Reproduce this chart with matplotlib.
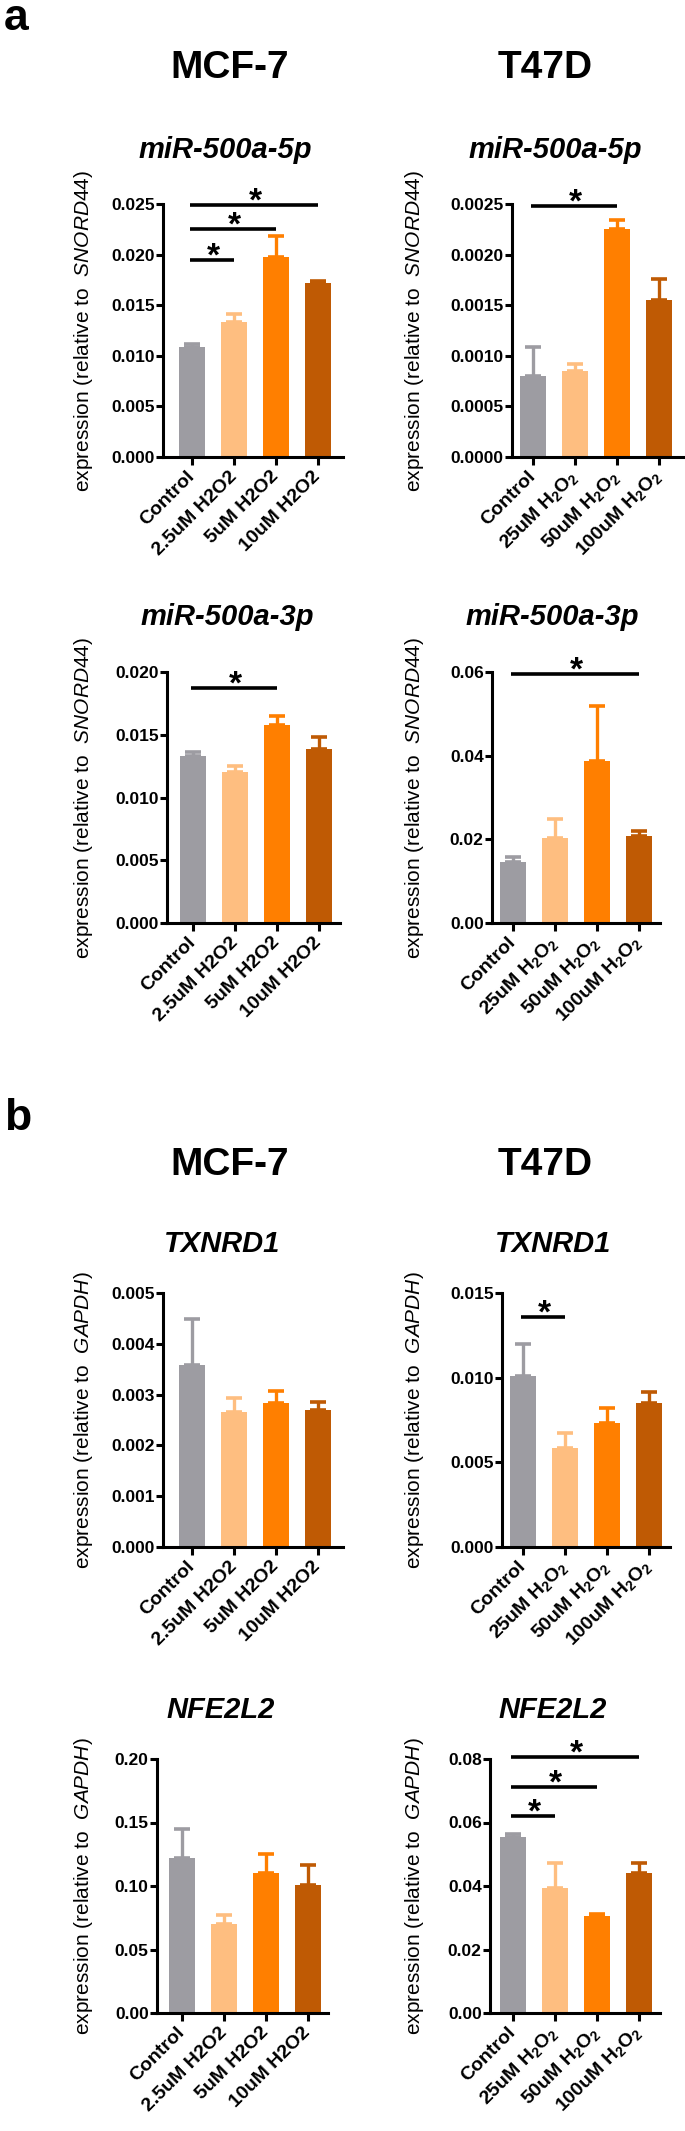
import numpy as np
import matplotlib.pyplot as plt
from matplotlib import font_manager
from matplotlib.ticker import FormatStrFormatter
import matplotlib.transforms as mtransforms

plt.rcParams['font.family'] = ['Liberation Sans', 'DejaVu Sans']
plt.rcParams['mathtext.fontset'] = 'custom'
plt.rcParams['mathtext.rm'] = 'Liberation Sans'
plt.rcParams['mathtext.it'] = 'Liberation Sans:italic'
plt.rcParams['mathtext.bf'] = 'Liberation Sans:bold'

# headers are set in a narrow bold face if one is there
try:
    font_manager.findfont('Liberation Sans Narrow', fallback_to_default=False)
    head_font, head_size = 'Liberation Sans Narrow', 30
except ValueError:
    head_font, head_size = 'Liberation Sans', 28

# colours: control, low, mid, high dose
bar_colors = ['#9d9ca2', '#febe80', '#ff7f00', '#bf5a04']

labels_mcf = ['Control', '2.5uM H2O2', '5uM H2O2', '10uM H2O2']
labels_t47d = ['Control', r'25uM H$_{\mathbf{2}}$O$_{\mathbf{2}}$',
               r'50uM H$_{\mathbf{2}}$O$_{\mathbf{2}}$',
               r'100uM H$_{\mathbf{2}}$O$_{\mathbf{2}}$']

# panel a
mir5p_mcf = [0.0109, 0.0133, 0.0198, 0.0172]
mir5p_mcf_err = [0.0003, 0.0008, 0.0020, 0.0002]
mir5p_t47d = [0.00080, 0.000845, 0.00225, 0.00155]
mir5p_t47d_err = [0.00029, 0.000076, 0.00009, 0.00021]
mir3p_mcf = [0.0133, 0.0120, 0.01575, 0.0139]
mir3p_mcf_err = [0.00034, 0.00048, 0.00074, 0.00092]
mir3p_t47d = [0.0147, 0.0204, 0.0388, 0.0209]
mir3p_t47d_err = [0.0010, 0.0044, 0.0131, 0.0011]

# panel b
txnrd1_mcf = [0.00359, 0.00266, 0.00283, 0.00269]
txnrd1_mcf_err = [0.00089, 0.00027, 0.00025, 0.00016]
txnrd1_t47d = [0.0101, 0.00586, 0.00734, 0.00853]
txnrd1_t47d_err = [0.0019, 0.00085, 0.00085, 0.00061]
nfe2l2_mcf = [0.122, 0.0703, 0.110, 0.1008]
nfe2l2_mcf_err = [0.023, 0.0071, 0.015, 0.0155]
nfe2l2_t47d = [0.0554, 0.0395, 0.0305, 0.0442]
nfe2l2_t47d_err = [0.0010, 0.0079, 0.0007, 0.0032]

# significance brackets: (from, to, height)
sig_mir5p_mcf = [(0, 1, 0.0195), (0, 2, 0.0225), (0, 3, 0.0249)]
sig_mir5p_t47d = [(0, 2, 0.00248)]
sig_mir3p_mcf = [(0, 2, 0.0187)]
sig_mir3p_t47d = [(0, 3, 0.0596)]
sig_txnrd1_t47d = [(0, 1, 0.0136)]
sig_nfe2l2_t47d = [(0, 1, 0.0621), (0, 2, 0.0712), (0, 3, 0.0806)]

W, H = 685, 2131
fig = plt.figure(figsize=(W / 100, H / 100), dpi=100)

def fx(px):
    return px / W

def fy(py):
    return 1 - py / H

# (title, values, errors, labels, ymax, ystep, fmt, sig, ref gene,
#  spine_x, bar0_x, end_x, top_y, bottom_y, title_x, title_base, ylabel_x)
panels = [
    ('miR-500a-5p', mir5p_mcf, mir5p_mcf_err, labels_mcf, 0.025, 0.005, '%.3f', sig_mir5p_mcf, 'SNORD44',
     163, 192, 343, 204, 457, 225, 158, 84),
    ('miR-500a-5p', mir5p_t47d, mir5p_t47d_err, labels_t47d, 0.0025, 0.0005, '%.4f', sig_mir5p_t47d, 'SNORD44',
     512, 533, 684, 204, 457, 555, 158, 415),
    ('miR-500a-3p', mir3p_mcf, mir3p_mcf_err, labels_mcf, 0.020, 0.005, '%.3f', sig_mir3p_mcf, 'SNORD44',
     167, 193, 340, 672, 923, 227, 625, 84),
    ('miR-500a-3p', mir3p_t47d, mir3p_t47d_err, labels_t47d, 0.06, 0.02, '%.2f', sig_mir3p_t47d, 'SNORD44',
     492, 513, 660, 672, 923, 552, 625, 415),
    ('TXNRD1', txnrd1_mcf, txnrd1_mcf_err, labels_mcf, 0.005, 0.001, '%.3f', [], 'GAPDH',
     163, 192, 343, 1293, 1547, 222, 1252, 84),
    ('TXNRD1', txnrd1_t47d, txnrd1_t47d_err, labels_t47d, 0.015, 0.005, '%.3f', sig_txnrd1_t47d, 'GAPDH',
     502, 523, 670, 1293, 1547, 553, 1252, 415),
    ('NFE2L2', nfe2l2_mcf, nfe2l2_mcf_err, labels_mcf, 0.20, 0.05, '%.2f', [], 'GAPDH',
     157, 182, 328, 1759, 2013, 221, 1718, 84),
    ('NFE2L2', nfe2l2_t47d, nfe2l2_t47d_err, labels_t47d, 0.08, 0.02, '%.2f', sig_nfe2l2_t47d, 'GAPDH',
     490, 513, 660, 1759, 2013, 553, 1718, 415),
]

spacing = 42.0
for (title, vals, errs, labels, ymax, ystep, fmt, sig, gene,
     sx, b0, ex, ty, by, tx, tb, lx) in panels:
    ax = fig.add_axes([fx(sx), fy(by), (ex - sx) / W, (by - ty) / H])
    x = np.arange(len(vals))
    ax.bar(x, vals, width=0.64, color=bar_colors, zorder=2)
    for i in range(len(vals)):
        ax.errorbar(x[i], vals[i], yerr=[[0], [errs[i]]], fmt='none',
                    ecolor=bar_colors[i], elinewidth=2.4, capsize=5.5,
                    capthick=2.6, zorder=1)
    ax.set_xlim(-(b0 - sx) / spacing, (ex - b0) / spacing)
    ax.set_ylim(0, ymax)
    ax.set_yticks(np.arange(0, ymax + ystep / 2, ystep))
    ax.yaxis.set_major_formatter(FormatStrFormatter(fmt))
    ax.set_xticks(x)
    ax.set_xticklabels(labels, rotation=45, ha='right', va='center',
                       rotation_mode='anchor')
    for lab in ax.get_yticklabels():
        lab.set_fontweight('bold')
        lab.set_fontsize(12.5)
    shift = mtransforms.ScaledTranslation(10 / 100, -11 / 100, fig.dpi_scale_trans)
    for lab in ax.get_xticklabels():
        lab.set_fontweight('bold')
        lab.set_fontsize(14)
        lab.set_transform(lab.get_transform() + shift)
    for s in ['top', 'right']:
        ax.spines[s].set_visible(False)
    for s in ['left', 'bottom']:
        ax.spines[s].set_linewidth(2.2)
    ax.tick_params(axis='y', direction='out', length=5, width=2.2, pad=1)
    ax.tick_params(axis='x', direction='out', length=6, width=2.2, pad=6)
    ax.patch.set_alpha(0)

    for (i, j, h) in sig:
        ax.plot([i - 0.05, j], [h, h], color='black', lw=2.6,
                solid_capstyle='butt', clip_on=False)
        ax.annotate('*', xy=((i + j) / 2, h), xytext=(0, -4),
                    textcoords='offset points', ha='center', va='baseline',
                    fontsize=24, fontweight='bold', annotation_clip=False)

    fig.text(fx(tx), fy(tb), title, ha='center', va='baseline',
             fontsize=21, fontweight='bold', style='italic')
    fig.text(fx(lx), fy((ty + by) / 2),
             r'expression (relative to  $\mathit{' + gene + '}$)',
             rotation=90, ha='center', va='center', fontsize=15)

# section letters and cell line headers
fig.text(fx(4), fy(30), 'a', fontsize=head_size + 4, fontweight='bold',
         va='baseline', family=head_font)
fig.text(fx(4), fy(1130), 'b', fontsize=head_size + 4, fontweight='bold',
         va='baseline', family=head_font)
for base in [78, 1175]:
    fig.text(fx(230), fy(base), 'MCF-7', ha='center', va='baseline',
             fontsize=head_size, fontweight='bold', family=head_font)
    fig.text(fx(545), fy(base), 'T47D', ha='center', va='baseline',
             fontsize=head_size, fontweight='bold', family=head_font)

fig.savefig('out.png', dpi=100)
